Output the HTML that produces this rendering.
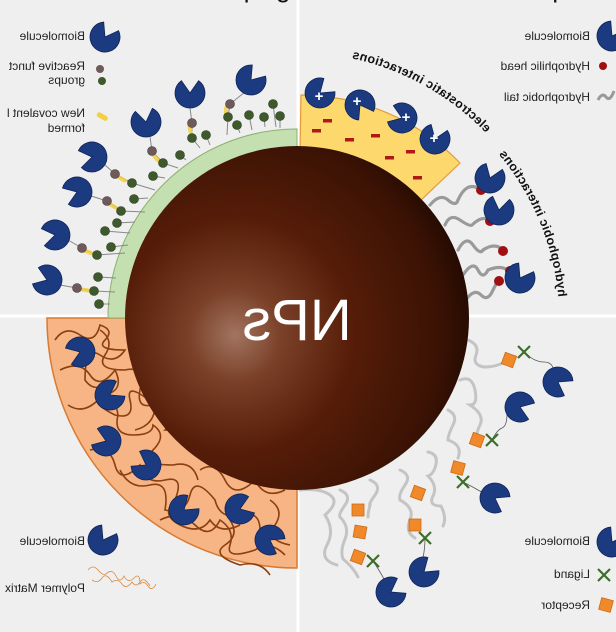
<!DOCTYPE html>
<html><head><meta charset="utf-8"><style>
html,body{margin:0;padding:0;background:#efefef;}
svg{display:block;}
text{font-family:"Liberation Sans",sans-serif;}
</style></head><body>
<svg width="616" height="632" viewBox="0 0 616 632" xmlns="http://www.w3.org/2000/svg">
<defs>
<radialGradient id="sp" cx="0.32" cy="0.55" r="0.75">
<stop offset="0" stop-color="#a27460"/>
<stop offset="0.18" stop-color="#7a4028"/>
<stop offset="0.45" stop-color="#561d08"/>
<stop offset="0.8" stop-color="#3a1204"/>
<stop offset="1" stop-color="#160500"/>
</radialGradient>
<path id="pm" d="M0,0 L12.3,-8.6 A15,15 0 1 0 12.3,8.6 Z" fill="#1b3a80" stroke="#0f2558" stroke-width="0.8"/>
<g id="rc"><rect x="-6" y="-6" width="12" height="12" fill="#f0892a" stroke="#d06a15" stroke-width="0.8"/></g>
<g id="lg" stroke="#3d6e2a" stroke-width="2.2"><line x1="-6" y1="-6" x2="6" y2="6"/><line x1="-6" y1="6" x2="6" y2="-6"/></g>
</defs>
<rect width="616" height="632" fill="#efefef"/>
<line x1="298" y1="0" x2="298" y2="632" stroke="#fff" stroke-width="3"/>
<line x1="0" y1="316" x2="616" y2="316" stroke="#fff" stroke-width="3"/>

<g transform="scale(-1,1)" font-size="26" fill="#111">
<text x="-290" y="-3">gnilpuoc tnelavoC</text>
<text x="-600" y="-3">noitprosdA</text>
<text x="-290" y="651">tnemparntE</text>
<text x="-612" y="651">ytiniffa oiB</text>
</g>

<path d="M297,318 L47,318 A250,250 0 0 0 297,568 Z" fill="#f7b585" stroke="#d97a30" stroke-width="1.5"/>
<g fill="none" stroke="#8a4010" stroke-width="1.6">
<path d="M55,340 q10,-15 25,-5 t20,-10 q15,5 5,15 t20,10 q-10,15 -25,5 t-15,25 q10,15 30,0"/>
<path d="M60,370 q20,-10 30,5 t25,-5 q10,20 -10,25 t10,20 q20,5 15,-15 t25,5 q0,20 -20,25"/>
<path d="M68,405 q15,10 30,-5 t20,15 q-5,20 15,20 t20,-10 q15,10 0,25 t20,15 q20,-5 25,15"/>
<path d="M90,450 q20,-5 25,15 t25,0 q5,20 25,15 t10,20 q-15,15 5,25 t30,-5 q10,15 30,5"/>
<path d="M120,470 q10,20 30,15 t15,25 q20,5 25,-15 t25,5 q5,20 25,15 t20,15"/>
<path d="M160,520 q20,-10 35,5 t25,-5 q15,10 10,25 t25,5 q15,-10 30,5"/>
<path d="M100,330 q15,10 5,25 t20,15 q20,-5 15,20 t25,10"/>
<path d="M150,380 q-10,15 10,25 t5,25 q20,0 25,20"/>
<path d="M200,470 q15,-10 25,10 t30,0 q10,20 30,10"/>
<path d="M230,520 q10,15 -5,25 t15,20 q20,-5 30,10"/>
<path d="M270,500 q15,10 5,25 t15,20"/>
</g>
<use href="#pm" transform="translate(80,352) rotate(160)"/>
<use href="#pm" transform="translate(110,395) rotate(-30)"/>
<use href="#pm" transform="translate(106,441) rotate(200)"/>
<use href="#pm" transform="translate(146,465) rotate(-150)"/>
<use href="#pm" transform="translate(184,510) rotate(-40)"/>
<use href="#pm" transform="translate(240,509) rotate(-20)"/>
<use href="#pm" transform="translate(270,540) rotate(30)"/>

<path d="M297,129 A189,189 0 0 0 108,318 L297,318 Z" fill="#c5e0b0" stroke="#8ab070" stroke-width="1"/>

<path d="M297,318 L301,95 A223,223 0 0 1 460,163 Z" fill="#fdd86c" stroke="#e59b3c" stroke-width="1.2"/>
<g fill="#b01818">
<rect x="323" y="119" width="9" height="3.5"/><rect x="312" y="129" width="9" height="3.5"/>
<rect x="345" y="138" width="9" height="3.5"/><rect x="371" y="134" width="9" height="3.5"/>
<rect x="385" y="156" width="9" height="3.5"/><rect x="406" y="150" width="9" height="3.5"/>
<rect x="413" y="176" width="9" height="3.5"/></g>

<g fill="none" stroke="#9a9a9a" stroke-width="3.2" stroke-linecap="round">
<path d="M430,205 q10,-12 18,-5 t10,0 q8,-18 20,-12"/>
<path d="M445,225 q5,-12 15,-5 t12,5 q10,-10 18,-5"/>
<path d="M458,250 q8,-15 15,-5 t10,5 q12,-8 20,0"/>
<path d="M463,275 q10,-15 15,-5 t10,0 q12,-5 20,0"/>
<path d="M466,300 q8,-12 15,-5 t12,-5 q5,-10 6,-10"/>
</g>
<g fill="#a01010"><circle cx="481" cy="190" r="5"/><circle cx="490" cy="221" r="5"/><circle cx="503" cy="251" r="5"/><circle cx="510" cy="271" r="5"/><circle cx="499" cy="281" r="5"/></g>
<use href="#pm" transform="translate(490,178) rotate(-70)"/>
<use href="#pm" transform="translate(499,210) rotate(-80)"/>
<use href="#pm" transform="translate(520,278) rotate(-60)"/>

<g fill="none" stroke="#c4c4c4" stroke-width="3" stroke-linecap="round">
<path d="M468,340 q12,5 8,15 t8,12 q15,0 25,-8"/>
<path d="M460,380 q12,-5 15,10 t-5,15 q15,10 10,20 t-2,15"/>
<path d="M448,410 q10,5 5,15 t-5,15 q15,5 10,18"/>
<path d="M428,452 q10,2 8,12 t-8,12 q10,10 5,20 t8,10 q6,12 2,20"/>
<path d="M400,470 q12,5 5,15 t-5,15 q15,8 10,20 t5,18"/>
<path d="M370,480 q12,5 5,15 t-5,10 q-2,8 -2,12"/>
<path d="M340,490 q12,5 5,15 t-5,12 q10,10 5,22 t-2,20 q10,8 15,18"/>
<path d="M300,490 q20,-2 30,5 t-5,20 q10,15 2,30 t10,20"/>
</g>
<g stroke="#555" stroke-width="0.8" fill="none">
<path d="M524,352 q10,10 20,10 t10,12"/><path d="M492,440 q5,-10 10,-12 t5,-14"/>
<path d="M463,482 q10,5 15,8 t12,5"/><path d="M425,538 q0,10 -2,20"/><path d="M373,561 q8,12 12,20"/>
</g>
<use href="#rc" transform="translate(509,360) rotate(20)"/>
<use href="#rc" transform="translate(477,440) rotate(20)"/>
<use href="#rc" transform="translate(458,468) rotate(15)"/>
<use href="#rc" transform="translate(418,493) rotate(20)"/>
<use href="#rc" transform="translate(415,525)"/>
<use href="#rc" transform="translate(358,510)"/>
<use href="#rc" transform="translate(360,532) rotate(10)"/>
<use href="#rc" transform="translate(358,557) rotate(20)"/>
<use href="#lg" transform="translate(524,352)"/>
<use href="#lg" transform="translate(492,440)"/>
<use href="#lg" transform="translate(463,482)"/>
<use href="#lg" transform="translate(425,538)"/>
<use href="#lg" transform="translate(373,561)"/>
<use href="#pm" transform="translate(558,382) rotate(30)"/>
<use href="#pm" transform="translate(520,407) rotate(20)"/>
<use href="#pm" transform="translate(495,498) rotate(30)"/>
<use href="#pm" transform="translate(424,572) rotate(-40)"/>
<use href="#pm" transform="translate(391,592) rotate(-30)"/>

<g stroke="#888" stroke-width="1" fill="none">
<path d="M245,92 L230,104 L228,117 L227,135"/><path d="M190,108 L192,123 L192,138 L200,148"/>
<path d="M150,137 L152,151 L163,163 L178,168"/><path d="M105,165 L115,174 L132,183 L155,190"/>
<path d="M88,195 L107,201 L121,211 L145,212"/><path d="M68,240 L82,248 L97,255 L125,253"/>
<path d="M60,285 L77,288 L94,291 L115,292"/>
<path d="M249,115 L252,130"/><path d="M264,117 L265,127"/><path d="M280,116 L280,128"/><path d="M273,104 L276,127"/><path d="M237,125 L240,133"/>
<path d="M206,135 L210,145"/><path d="M180,155 L186,160"/><path d="M153,176 L165,178"/><path d="M134,199 L148,198"/>
<path d="M117,223 L135,222"/><path d="M105,231 L130,233"/><path d="M111,247 L128,245"/><path d="M98,277 L116,278"/><path d="M99,304 L110,304"/>
</g>
<g fill="#f3d040" opacity="0.85">
<rect x="224" y="106" width="4" height="10" rx="2"/><rect x="188" y="124" width="4" height="10" rx="2" transform="rotate(-10 190 129)"/>
<rect x="154" y="153" width="4" height="10" rx="2" transform="rotate(-40 156 158)"/>
<rect x="120" y="174" width="4" height="10" rx="2" transform="rotate(-60 122 179)"/>
<rect x="111" y="201" width="4" height="10" rx="2" transform="rotate(-60 113 206)"/>
<rect x="86" y="247" width="4" height="10" rx="2" transform="rotate(-70 88 252)"/>
<rect x="83" y="285" width="4" height="10" rx="2" transform="rotate(-80 85 290)"/>
</g>
<g fill="#6e5a5a" stroke="#4a3a3a" stroke-width="0.6">
<circle cx="230" cy="104" r="4.5"/><circle cx="192" cy="123" r="4.5"/><circle cx="152" cy="151" r="4.5"/><circle cx="115" cy="174" r="4.5"/><circle cx="107" cy="201" r="4.5"/><circle cx="82" cy="248" r="4.5"/><circle cx="77" cy="288" r="4.5"/>
</g>
<g fill="#3e5a2c" stroke="#2a3e1e" stroke-width="0.6">
<circle cx="228" cy="117" r="4.5"/><circle cx="237" cy="125" r="4.5"/><circle cx="249" cy="115" r="4.5"/><circle cx="264" cy="117" r="4.5"/><circle cx="280" cy="116" r="4.5"/><circle cx="273" cy="104" r="4.5"/>
<circle cx="206" cy="135" r="4.5"/><circle cx="192" cy="138" r="4.5"/><circle cx="180" cy="155" r="4.5"/><circle cx="163" cy="163" r="4.5"/><circle cx="153" cy="176" r="4.5"/><circle cx="132" cy="183" r="4.5"/>
<circle cx="134" cy="199" r="4.5"/><circle cx="121" cy="211" r="4.5"/><circle cx="117" cy="223" r="4.5"/><circle cx="105" cy="231" r="4.5"/><circle cx="111" cy="247" r="4.5"/><circle cx="97" cy="255" r="4.5"/>
<circle cx="98" cy="277" r="4.5"/><circle cx="94" cy="291" r="4.5"/><circle cx="99" cy="304" r="4.5"/>
</g>
<use href="#pm" transform="translate(251,80) rotate(-50)"/>
<use href="#pm" transform="translate(190,93) rotate(-90)"/>
<use href="#pm" transform="translate(146,122) rotate(-100)"/>
<use href="#pm" transform="translate(92,157) rotate(170)"/>
<use href="#pm" transform="translate(77,192) rotate(160)"/>
<use href="#pm" transform="translate(55,235) rotate(170)"/>
<use href="#pm" transform="translate(47,280) rotate(200)"/>

<use href="#pm" transform="translate(320,93) rotate(-40)"/>
<use href="#pm" transform="translate(360,105) rotate(60)"/>
<use href="#pm" transform="translate(402,118) rotate(200)"/>
<use href="#pm" transform="translate(435,139) rotate(-70)"/>
<g fill="#fff" font-size="15" font-weight="bold" text-anchor="middle">
<text x="319" y="101">+</text><text x="357" y="106">+</text><text x="406" y="122">+</text><text x="434" y="143">+</text></g>

<circle cx="297" cy="318" r="172" fill="url(#sp)"/>
<text transform="scale(-1,1)" x="-297" y="340" font-size="58" fill="#fff" text-anchor="middle">NPs</text>

<g transform="translate(616,0) scale(-1,1)">
<path id="ea" d="M130,133 A265,265 0 0 1 300,53" fill="none"/>
<path id="ha" d="M57,305 A262,262 0 0 1 130,140" fill="none"/>
<text font-size="12.5" font-weight="bold" fill="#111" letter-spacing="0.3"><textPath href="#ea">electrostatic interactions</textPath></text>
<text font-size="12.5" font-weight="bold" fill="#111" letter-spacing="0.3"><textPath href="#ha" startOffset="8">hydrophobic interactions</textPath></text>
</g>

<g font-size="12" fill="#222" transform="scale(-1,1)">
<text x="-85" y="40">Biomolecule</text>
<text x="-85" y="70">Reactive funct</text>
<text x="-85" y="84">groups</text>
<text x="-85" y="117">New covalent l</text>
<text x="-85" y="132">formed</text>
<text x="-590" y="40">Biomolecule</text>
<text x="-590" y="70">Hydrophilic head</text>
<text x="-590" y="101">Hydrophobic tail</text>
<text x="-85" y="545">Biomolecule</text>
<text x="-85" y="592">Polymer Matrix</text>
<text x="-590" y="545">Biomolecule</text>
<text x="-590" y="578">Ligand</text>
<text x="-590" y="609">Receptor</text>
</g>
<use href="#pm" transform="translate(105,37) rotate(-60)"/>
<circle cx="100" cy="69" r="4" fill="#6e5a5a"/><circle cx="102" cy="81" r="4" fill="#3e5a2c"/>
<rect x="96" y="114" width="12" height="5" rx="2.5" fill="#f3d040" transform="rotate(30 102 117)"/>
<use href="#pm" transform="translate(612,36) rotate(-60)"/>
<circle cx="603" cy="66" r="4" fill="#a01010"/>
<path d="M598,100 q4,-8 8,-3 t8,-6" fill="none" stroke="#999" stroke-width="3"/>
<use href="#pm" transform="translate(103,540) rotate(-60)"/>
<g fill="none" stroke="#d98a40" stroke-width="0.8"><path d="M88,570 q5,-6 10,0 t8,4 q6,-6 10,2 t8,0 q4,8 10,2 t6,6 q4,-4 8,2 t8,-2 M92,580 q6,4 10,-2 t10,4 q6,-4 10,2 t10,-2 q4,6 8,0 t10,4"/></g>
<use href="#pm" transform="translate(612,542) rotate(-60)"/>
<use href="#lg" transform="translate(604,575)"/>
<use href="#rc" transform="translate(606,605) rotate(15)"/>
</svg>
</body></html>
